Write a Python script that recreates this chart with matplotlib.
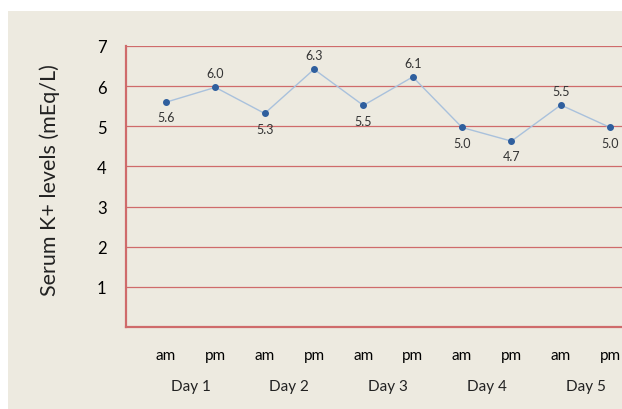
import matplotlib.pyplot as plt
from matplotlib.patches import Rectangle

# valores
slots = ["am", "pm", "am", "pm", "am", "pm", "am", "pm", "am", "pm"]
days = ["Day 1", "Day 2", "Day 3", "Day 4", "Day 5"]
potassium = [5.6, 5.97, 5.32, 6.42, 5.52, 6.23, 4.97, 4.63, 5.53, 4.97]
point_labels = ["5.6", "6.0", "5.3", "6.3", "5.5", "6.1", "5.0", "4.7", "5.5", "5.0"]
label_above = [False, True, False, True, False, True, False, False, True, False]

bg = "#edeae0"
red = "#cf6b6b"
plt.rcParams['font.family'] = ['Lato', 'DejaVu Sans']

fig = plt.figure(figsize=(6.22, 4.10), dpi=100)
fig.patch.set_facecolor("white")
fig.patches.append(Rectangle((8 / 622, 0), 1, (410 - 12) / 410, transform=fig.transFigure,
                             facecolor=bg, edgecolor="none", zorder=-5))

ax = fig.add_axes([126 / 622, 82 / 410, 1 - 126 / 622, (328 - 47) / 410])
ax.set_facecolor(bg)

x = list(range(len(slots)))
ax.plot(x, potassium, color="#a9c1dc", linewidth=1.0, zorder=3)
ax.plot(x, potassium, linestyle="none", marker="o", markersize=4,
        color="#2f5f9e", zorder=4)

for xi, yi, txt, up in zip(x, potassium, point_labels, label_above):
    ax.annotate(txt, (xi, yi), xytext=(0, 10 if up else -11), textcoords="offset points",
                ha="center", va="center", fontsize=9, color="#333333")

for yv in range(1, 8):
    ax.axhline(yv, color=red, linewidth=0.9, zorder=1)

ax.set_ylim(0, 7)
ax.set_xlim(-0.81, 9.24)
ax.set_yticks(range(1, 8))
ax.tick_params(axis="y", length=0, labelsize=12, pad=14)
ax.set_xticks(x)
ax.set_xticklabels(slots)
ax.tick_params(axis="x", length=0, labelsize=11, pad=15)

for s in ["top", "right"]:
    ax.spines[s].set_visible(False)
ax.spines["left"].set_color(red)
ax.spines["left"].set_linewidth(1.6)
ax.spines["bottom"].set_color(red)
ax.spines["bottom"].set_linewidth(1.6)

for i, d in enumerate(days):
    ax.text(2 * i + 0.5, -1.48, d, ha="center", va="center", fontsize=11,
            color="#222222", transform=ax.transData, clip_on=False)

fig.text(50 / 622, 1 - 180 / 410, "Serum K+ levels (mEq/L)", rotation=90,
         ha="center", va="center", fontsize=15.5, color="#222222")

fig.savefig("out.png", dpi=100, facecolor=fig.get_facecolor())
